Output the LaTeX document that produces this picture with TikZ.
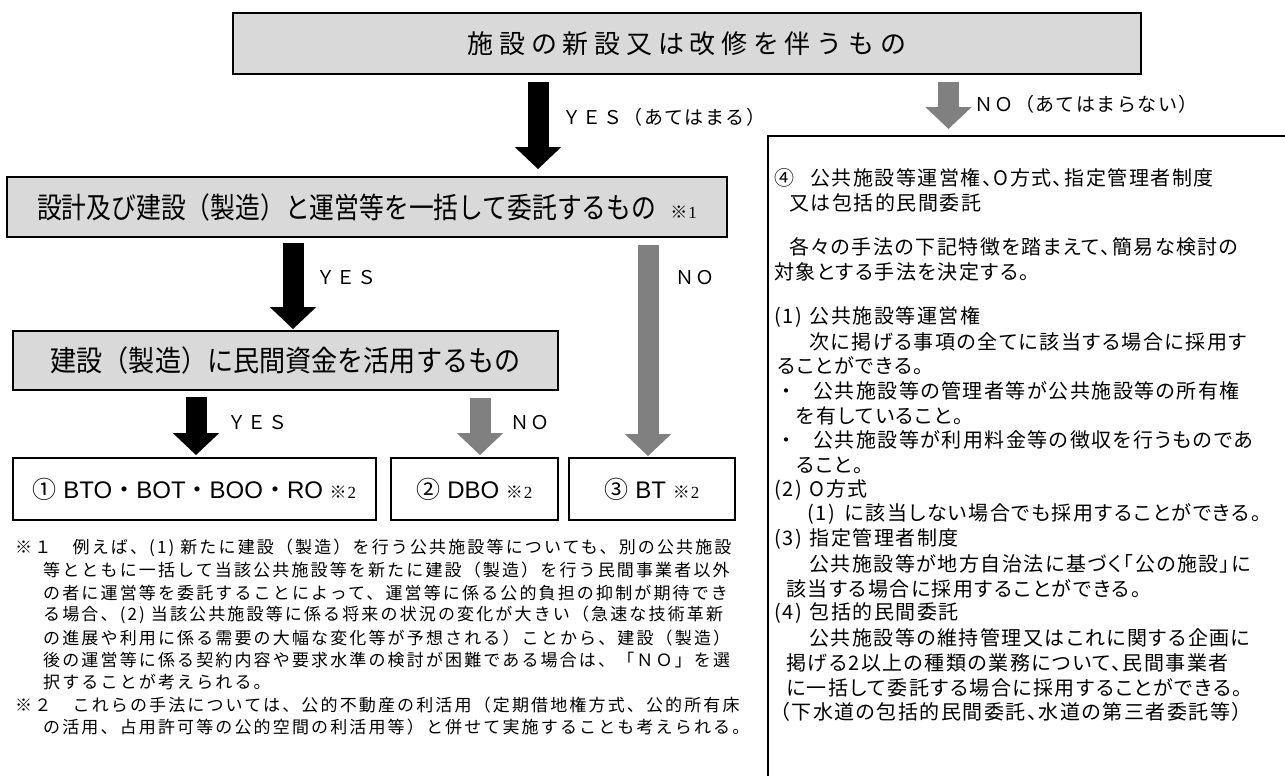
\documentclass[tikz,border=0pt]{standalone}
\usepackage{fontspec}
\usepackage{graphicx}
\usetikzlibrary{arrows.meta}
\setmainfont{Liberation Sans}
\newfontfamily\jp{Noto Sans CJK JP}
\newfontfamily\jptitle[LetterSpace=22]{Noto Sans CJK JP}
\newfontfamily\jplabel[LetterSpace=8]{Noto Sans CJK JP}
\newfontfamily\jpbox[LetterSpace=7.5,RawFeature=+palt]{Noto Sans CJK JP}
\newfontfamily\jpnote[LetterSpace=12.6]{Noto Sans CJK JP}
\newfontfamily\lserif{Liberation Serif}
\newcommand\fsz[1]{\fontsize{#1}{#1}\selectfont}
\newcommand\kome[1]{{\fsz{17}\jp ※\kern1pt\lserif #1}}
\definecolor{boxgray}{HTML}{D9D9D9}
\definecolor{arrowgray}{HTML}{808080}
\tikzset{
  graybox/.style={draw, line width=1.8pt, fill=boxgray, inner sep=0pt},
  whitebox/.style={draw, line width=1.8pt, fill=white, inner sep=0pt},
  yesarrow/.style={line width=21pt, -{Triangle[width=45pt,length=22pt]}, shorten <=6pt, shorten >=2pt},
  noarrow/.style={yesarrow, draw=arrowgray},
  answer/.style={anchor=west, inner sep=0pt, font={\fsz{19}\jplabel}},
  boxline/.style={anchor=west, inner sep=0pt, font={\fsz{20}\jpbox}},
  noteline/.style={anchor=west, inner sep=0pt, font={\fsz{17}\jpnote}},
}

\begin{document}
\begin{tikzpicture}[x=1pt, y=-1pt]
\useasboundingbox (0,0) rectangle (1285,776);
\clip (0,0) rectangle (1285,776);

% question boxes
\node[graybox, line width=2.2pt, minimum width=908pt, minimum height=61pt] (new) at (687,43.5) {\fsz{26}\jptitle 施設の新設又は改修を伴うもの};
\node[graybox, minimum width=720pt, minimum height=60pt] (bundle) at (367,207) {\scalebox{0.855}[1]{\fsz{29}\jp 設計及び建設（製造）と運営等を一括して委託するもの}\hspace{14pt}\kome{1}};
\node[graybox, minimum width=545pt, minimum height=59pt] (fund) at (285.5,360.5) {\scalebox{0.9}[1]{\fsz{29}\jp 建設（製造）に民間資金を活用するもの}};

% answer boxes
\node[whitebox, minimum width=363pt, minimum height=62pt] (bto) at (194.5,489) {\fsz{24}{\jp ①}\ BTO{\jp ・}BOT{\jp ・}BOO{\jp ・}RO\ \kome{2}};
\node[whitebox, minimum width=167pt, minimum height=62pt] (dbo) at (474.5,489) {\fsz{24}{\jp ②}\ DBO\ \kome{2}};
\node[whitebox, minimum width=166pt, minimum height=62pt] (bt) at (652,489) {\fsz{24}{\jp ③}\ BT\ \kome{2}};
\node[draw, line width=1.8pt, anchor=north west, minimum width=600pt, minimum height=700pt] (others) at (767,135) {};

% arrow columns
\coordinate (colA) at (538,0);
\coordinate (colB) at (948.5,0);
\coordinate (colC) at (293,0);
\coordinate (colD) at (648,0);
\coordinate (colE) at (196,0);
\coordinate (colF) at (480,0);

\draw[yesarrow, shorten <=7pt, shorten >=7pt] (new.south -| colA) -- (bundle.north -| colA);
\draw[noarrow, shorten <=7pt, shorten >=6pt] (new.south -| colB) -- (others.north -| colB);
\draw[yesarrow, shorten <=5pt, shorten >=1pt] (bundle.south -| colC) -- (fund.north -| colC);
\draw[noarrow, shorten <=7pt, shorten >=1pt] (bundle.south -| colD) -- (bt.north -| colD);
\draw[yesarrow] (fund.south -| colE) -- (bto.north -| colE);
\draw[noarrow, shorten <=7pt] (fund.south -| colF) -- (dbo.north -| colF);

\node[answer] (yes1) at (562,117) {ＹＥＳ（あてはまる）};
\node[answer] (no1) at (974,104) {ＮＯ（あてはまらない）};
\node[answer] (yes2) at (316,278) {ＹＥＳ};
\node[answer] (no2) at (675,278) {ＮＯ};
\node[answer] (yes3) at (227,423) {ＹＥＳ};
\node[answer] (no3) at (510,423) {ＮＯ};

% text of box 4
\foreach \x/\y/\t [count=\i] in {
  774/178/④\hspace{16pt}公共施設等運営権、O方式、指定管理者制度,
  789/203/又は包括的民間委託,
  789/247/各々の手法の下記特徴を踏まえて、簡易な検討の,
  774/272/対象とする手法を決定する。,
  774/317/(1)\hspace{8pt}公共施設等運営権,
  809/342/次に掲げる事項の全てに該当する場合に採用す,
  777/366/ることができる。,
  776/391/{\jp ・}\hspace{17pt}公共施設等の管理者等が公共施設等の所有権,
  796/416/を有していること。,
  776/440/{\jp ・}\hspace{17pt}公共施設等が利用料金等の徴収を行うものであ,
  796/465/ること。,
  774/490/(2)\hspace{8pt}O方式,
  807/514/(1)\hspace{10pt}に該当しない場合でも採用することができる。,
  774/539/(3)\hspace{8pt}指定管理者制度,
  809/564/公共施設等が地方自治法に基づく「公の施設」に,
  786/589/該当する場合に採用することができる。,
  774/613/(4)\hspace{8pt}包括的民間委託,
  809/638/公共施設等の維持管理又はこれに関する企画に,
  786/663/掲げる2以上の種類の業務について、民間事業者,
  786/688/に一括して委託する場合に採用することができる。,
  780/712/（下水道の包括的民間委託、水道の第三者委託等）}
  {\node[boxline] (line\i) at (\x,\y) {\t};}

% notes
\foreach \x/\y/\t [count=\i] in {
  15/548/※１　例えば、(1) 新たに建設（製造）を行う公共施設等についても、別の公共施設,
  43/570/等とともに一括して当該公共施設等を新たに建設（製造）を行う民間事業者以外,
  43/593/の者に運営等を委託することによって、運営等に係る公的負担の抑制が期待でき,
  43/615/る場合、(2) 当該公共施設等に係る将来の状況の変化が大きい（急速な技術革新,
  43/638/の進展や利用に係る需要の大幅な変化等が予想される）ことから、建設（製造）,
  43/660/後の運営等に係る契約内容や要求水準の検討が困難である場合は、「ＮＯ」を選,
  43/682/択することが考えられる。,
  15/705/※２　これらの手法については、公的不動産の利活用（定期借地権方式、公的所有床,
  43/727/の活用、占用許可等の公的空間の利活用等）と併せて実施することも考えられる。}
  {\node[noteline] (note\i) at (\x,\y) {\t};}
\end{tikzpicture}
\end{document}
